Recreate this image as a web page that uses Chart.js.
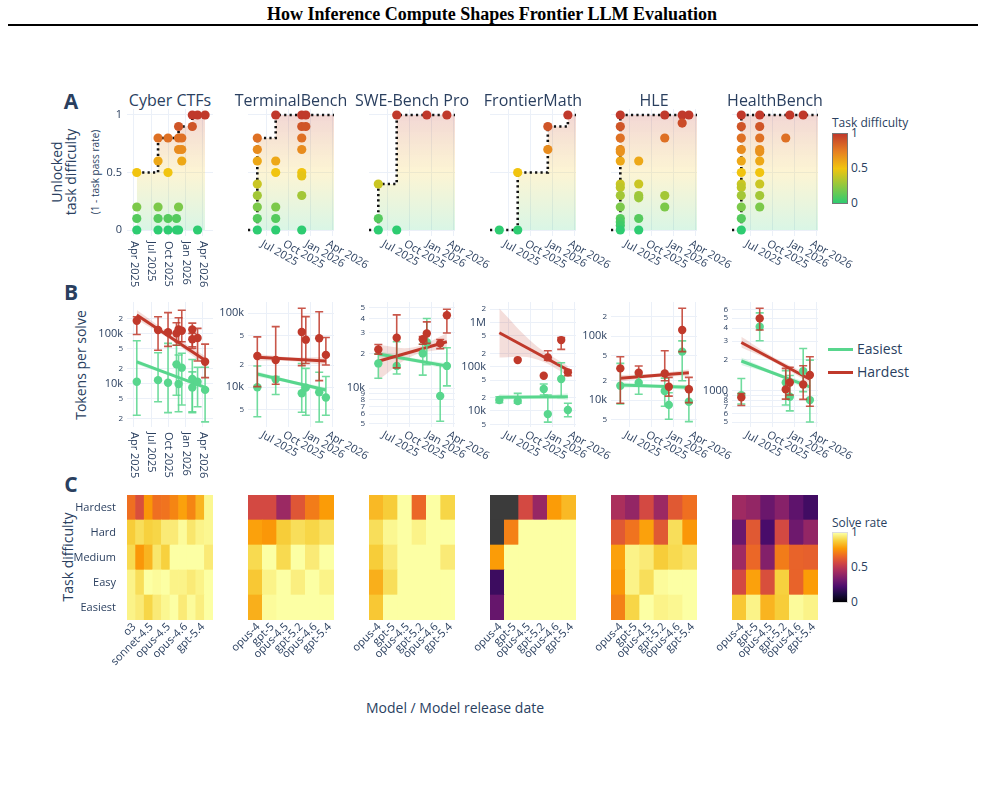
<!DOCTYPE html>
<html>
<head>
<meta charset="utf-8">
<script src="https://cdn.jsdelivr.net/npm/chart.js@4.4.1/dist/chart.umd.min.js"></script>
<style>
  body { margin: 0; width: 985px; height: 790px; overflow: hidden; background: #fff; position: relative;
         font-family: 'Open Sans', sans-serif; color: #2a3f5f; }
  canvas { position: absolute; }
  .lbl { position: absolute; white-space: nowrap; transform: translate(-50%, -50%); line-height: 1; }
  .rot { transform: translate(-50%, -50%) rotate(-90deg); }
  .left { position: absolute; white-space: nowrap; transform: translate(0, -50%); line-height: 1; }
</style>
</head>
<body>
<div class="lbl" style="left:492px;top:14px;font:bold 18px 'Liberation Serif',serif;color:#000">How Inference Compute Shapes Frontier LLM Evaluation</div>
<div style="position:absolute;left:8px;top:24px;width:970px;height:2px;background:#000"></div>

<div class="lbl" style="left:71px;top:101px;font-weight:bold;font-size:21px">A</div>
<div class="lbl" style="left:71px;top:292px;font-weight:bold;font-size:21px">B</div>
<div class="lbl" style="left:71px;top:484px;font-weight:bold;font-size:21px">C</div>

<div class="lbl rot" style="left:57px;top:172px;font-size:14px">Unlocked</div>
<div class="lbl rot" style="left:71px;top:172px;font-size:14px">task difficulty</div>
<div class="lbl rot" style="left:95px;top:172px;font-size:10px">(1 - task pass rate)</div>
<div class="lbl rot" style="left:81px;top:365px;font-size:14px">Tokens per solve</div>
<div class="lbl rot" style="left:68px;top:557px;font-size:14px">Task difficulty</div>
<div class="lbl" style="left:455px;top:708px;font-size:14px">Model / Model release date</div>

<!-- legend -->
<div style="position:absolute;left:828px;top:347.5px;width:25px;height:3px;background:#58d68d"></div>
<div class="left" style="left:857px;top:349px;font-size:14px">Easiest</div>
<div style="position:absolute;left:828px;top:370.5px;width:25px;height:3px;background:#c0392b"></div>
<div class="left" style="left:857px;top:372px;font-size:14px">Hardest</div>

<!-- colorbars -->
<div class="left" style="left:832px;top:123px;font-size:12px">Task difficulty</div>
<div style="position:absolute;left:832px;top:133px;width:14px;height:69px;border:1px solid #777;
  background:linear-gradient(to top,#2ecc71,#f1c40f 50%,#e67e22 75%,#c0392b)"></div>
<div class="left" style="left:851px;top:133px;font-size:12px">1</div>
<div class="left" style="left:851px;top:168px;font-size:12px">0.5</div>
<div class="left" style="left:851px;top:203px;font-size:12px">0</div>

<div class="left" style="left:832px;top:523px;font-size:12px">Solve rate</div>
<div style="position:absolute;left:832px;top:532px;width:14px;height:69px;border:1px solid #ddd;
  background:linear-gradient(to top,#000004,#1b0c41 11.1%,#4a0c6b 22.2%,#781c6d 33.3%,#a52c60 44.4%,#cf4446 55.6%,#ed6925 66.7%,#fb9b06 77.8%,#f7d13d 88.9%,#fcffa4)"></div>
<div class="left" style="left:851px;top:532px;font-size:12px">1</div>
<div class="left" style="left:851px;top:567px;font-size:12px">0.5</div>
<div class="left" style="left:851px;top:602px;font-size:12px">0</div>

<script>
// ---------- data ----------
const benchmarks = ["Cyber CTFs", "TerminalBench", "SWE-Bench Pro", "FrontierMath", "HLE", "HealthBench"];

const cyberModels = ["o3", "gpt-5", "sonnet-4.5", "gpt-5.1", "opus-4.5", "gpt-5.2", "opus-4.6", "gpt-5.3-codex", "gpt-5.4", "gpt-5.4-pro"];
const cyberDates = ["2025-04-16", "2025-08-07", "2025-09-29", "2025-11-13", "2025-11-24", "2025-12-11", "2026-02-05", "2026-02-05", "2026-03-05", "2026-04-14"];
const coreModels = ["opus-4", "gpt-5", "opus-4.5", "gpt-5.2", "opus-4.6", "gpt-5.4"];
const coreDates = ["2025-05-22", "2025-08-07", "2025-11-24", "2025-12-11", "2026-02-05", "2026-03-05"];

const cyberRange = ["2025-02-23", "2026-05-26"];
const coreRange = ["2025-04-13", "2026-04-08"];
const cyberTickDates = ["2025-04-01", "2025-07-01", "2025-10-01", "2026-01-01", "2026-04-01"];
const cyberTickLabels = ["Apr 2025", "Jul 2025", "Oct 2025", "Jan 2026", "Apr 2026"];
const coreTickDates = ["2025-07-01", "2025-10-01", "2026-01-01", "2026-04-01"];
const coreTickLabels = ["Jul 2025", "Oct 2025", "Jan 2026", "Apr 2026"];

// A: unlocked task difficulty levels, one list per model
const unlocked = [
  [[0.5, 0.2, 0.1, 0], [0.8, 0.6, 0.2, 0.1, 0], [0.8, 0.5, 0.1, 0], [0.1, 0], [0.9, 0.8, 0.7, 0.2, 0], [0.8, 0.7, 0.6], [1, 0.9], [], [1, 0], [1]],
  [[0.8, 0.7, 0.6, 0.4, 0.3, 0.2, 0.1, 0], [1, 0.6, 0.5, 0.2, 0.1, 0], [1, 0.9, 0.8, 0.7, 0.5, 0.47, 0.3, 0], [1, 0.9], [], []],
  [[0.4, 0.1, 0], [1, 0], [], [1], [], [1]],
  [[0], [0.5, 0], [], [0.9, 0.7], [], [1]],
  [[1, 0.9, 0.8, 0.7, 0.68, 0.6, 0.4, 0.37, 0.3, 0.2, 0.1, 0.07, 0.04, 0], [0.6, 0.4, 0.3, 0.28, 0.1, 0], [1, 0.8, 0.3, 0.2], [], [1, 0.93], [1]],
  [[1, 0.9, 0.8, 0.7, 0.6, 0.5, 0.4, 0.37, 0.3, 0.2, 0.1, 0], [1, 0.9, 0.8, 0.7, 0.68, 0.6, 0.5, 0.4, 0.3, 0.2], [0.8], [1], [1], []]
];
const unlockTicks = [0, 0.5, 1];
const unlockTickLabels = ["0", "0.5", "1"];

// B: tokens per solve (median and interval) for hardest / easiest tasks
const hardTokens = [
  [179e3, 117e3, 105e3, 100e3, 120e3, 113e3, 120e3, 76e3, 81e3, 27e3],
  [26.5e3, 23.4e3, 56e3, 44e3, 46e3, 27.4e3],
  [21.6e3, 27.3e3, 26.5e3, 29.7e3, 24.4e3, 42.7e3],
  [null, 141e3, 62.7e3, 162e3, 399e3, 74.5e3],
  [31.2e3, 26.7e3, 26e3, 16.1e3, 124e3, 14.7e3],
  [863, 4960, 1030, 1200, 1150, 1415]
];
const hardLow = [
  [95e3, 46e3, 55e3, 58e3, 68e3, 68e3, 54e3, 50e3, 28e3, 13e3],
  [10.2e3, 11e3, 19.6e3, 21e3, 12.3e3, 20e3],
  [19.7e3, 15e3, 24e3, 24.4e3, 22e3, 30e3],
  [null, null, null, 141e3, 246e3, 63e3],
  [8.9e3, 23.2e3, 20e3, 11.5e3, 57e3, 9.1e3],
  [720, 3830, 830, 910, 825, 710]
];
const hardHigh = [
  [215e3, 215e3, 260e3, 163e3, 205e3, 290e3, 160e3, 100e3, 126e3, 61e3],
  [48e3, 66e3, 117e3, 90e3, 105e3, 47e3],
  [23.9e3, 43e3, 28e3, 37.4e3, 26.4e3, 48e3],
  [null, null, null, 229e3, 458e3, 84e3],
  [47.5e3, 34e3, 59e3, 22.6e3, 271e3, 22.6e3],
  [940, 6200, 1640, 1680, 1740, 2120]
];
const easyTokens = [
  [10.8e3, 11.6e3, 10.3e3, 24e3, 9.7e3, 20.6e3, 12.2e3, 8.3e3, 10.8e3, 7.4e3],
  [10e3, 12.8e3, 8.3e3, 9.9e3, 8.6e3, 7.3e3],
  [16.4e3, 15.6e3, 20e3, 25e3, 8.6e3, 15.6e3],
  [17.7e3, 16.8e3, 31.4e3, 8.5e3, 52.7e3, 10.5e3],
  [16.7e3, 18.7e3, 13.8e3, 8.4e3, 57e3, 9.4e3],
  [908, 4120, 1200, 875, 1545, 813]
];
const easyLow = [
  [2.3e3, 4.3e3, 2.6e3, 5.8e3, 2.7e3, 3.7e3, 2.7e3, 2.6e3, 3.4e3, 1.7e3],
  [4e3, 8e3, 4.6e3, 4.2e3, 3.4e3, 4.2e3],
  [12.2e3, 13.3e3, 13e3, 16e3, 5.2e3, 10.5e3],
  [15.4e3, 14.9e3, 22.9e3, 5.6e3, 20.3e3, 7.4e3],
  [8.7e3, 12.3e3, 8e3, 5e3, 20e3, 4.6e3],
  [745, 3020, 730, 640, 980, 500]
];
const easyHigh = [
  [71e3, 41e3, 63e3, 58e3, 37e3, 40e3, 30e3, 17e3, 21e3, 21e3],
  [19.4e3, 14e3, 21e3, 18e3, 16e3, 14e3],
  [19.8e3, 25.2e3, 24e3, 40e3, 15.9e3, 22.4e3],
  [21e3, 25e3, 40.7e3, 22.9e3, 123e3, 14.9e3],
  [37.4e3, 24.6e3, 22e3, 13e3, 84e3, 15e3],
  [1310, 5600, 1560, 1400, 2550, 1970]
];
// fitted trends: [first model, last model]; bands: [first, middle, last]
const hardTrend = [[232e3, 29e3], [25.4e3, 22.7e3], [17.1e3, 25.2e3], [583e3, 84e3], [21.8e3, 26.7e3], [2910, 1290]];
const hardBandLow = [[190e3, 74e3, 23e3], [22.9e3, 22.5e3, 20e3], [11.8e3, 19e3, 22e3], [162e3, 154e3, 65e3], [19.3e3, 22.6e3, 23.7e3], [2600, 1850, 1180]];
const hardBandHigh = [[293e3, 96e3, 35e3], [28.2e3, 25.5e3, 25.4e3], [23.6e3, 22.5e3, 29.7e3], [2.06e6, 336e3, 103e3], [24.6e3, 25.8e3, 30e3], [3300, 2050, 1410]];
const easyTrend = [[27e3, 8.3e3], [15.1e3, 9.2e3], [19.8e3, 15.6e3], [20.3e3, 21e3], [17.2e3, 15.8e3], [1930, 1090]];
const easyBandLow = [[24e3, 13.8e3, 7.4e3], [13.9e3, 11.2e3, 8.5e3], [18.5e3, 16.9e3, 14.7e3], [17.5e3, 19.3e3, 17.8e3], [15.6e3, 15.6e3, 14.3e3], [1770, 1400, 990]];
const easyBandHigh = [[30e3, 15.6e3, 9.1e3], [16.3e3, 12.4e3, 10e3], [21e3, 18.3e3, 16.5e3], [24e3, 22e3, 25e3], [19e3, 17.4e3, 17.4e3], [2090, 1510, 1180]];

const tokenRange = [[1340, 424e3], [2910, 142e3], [4640, 55.5e3], [4350, 2.89e6], [3790, 340e3], [448, 7130]];
const tokenTicks = [
  [2e3, 5e3, 1e4, 2e4, 5e4, 1e5, 2e5],
  [5e3, 1e4, 2e4, 5e4, 1e5],
  [5e3, 6e3, 7e3, 8e3, 9e3, 1e4, 2e4, 3e4, 4e4, 5e4],
  [5e3, 1e4, 2e4, 5e4, 1e5, 2e5, 5e5, 1e6, 2e6],
  [5e3, 1e4, 2e4, 5e4, 1e5, 2e5],
  [500, 600, 700, 800, 900, 1000, 2000, 3000, 4000, 5000, 6000]
];
const tokenTickLabels = [
  ["2", "5", "10k", "2", "5", "100k", "2"],
  ["5", "10k", "2", "5", "100k"],
  ["5", "6", "7", "8", "9", "10k", "2", "3", "4", "5"],
  ["5", "10k", "2", "5", "100k", "2", "5", "1M", "2"],
  ["5", "10k", "2", "5", "100k", "2"],
  ["5", "6", "7", "8", "9", "1000", "2", "3", "4", "5", "6"]
];

// C: solve rate per difficulty row (Hardest .. Easiest) and model
const difficultyRows = ["Hardest", "Hard", "Medium", "Easy", "Easiest"];
const solveRate = [
  [[0.68, 0.59, 0.77, 0.68, 0.69, 0.73, 0.79, 0.73, 0.83, 0.98],
   [0.88, 0.92, 0.89, 0.90, 0.95, 0.95, 0.99, 0.94, 0.97, 0.98],
   [0.91, 0.77, 0.83, 0.94, 0.89, 1, 1, 1, 1, 0.95],
   [0.97, 0.92, 1, 0.99, 1, 0.97, 0.97, 0.95, 0.97, 1],
   [0.97, 0.95, 0.90, 0.95, 0.98, 1, 0.95, 0.99, 0.96, 1]],
  [[0.57, 0.57, 0.42, 0.61, 0.71, 0.78],
   [0.79, 0.77, 0.88, 0.92, 0.90, 0.93],
   [0.91, 1, 0.91, 1, 0.95, 1],
   [0.87, 0.97, 1, 0.96, 1, 0.97],
   [0.82, 0.99, 1, 1, 1, 1]],
  [[0.84, 0.88, 1, 0.66, 1, 0.90],
   [0.92, 0.98, 1, 0.97, 1, 1],
   [0.88, 0.95, 1, 1, 1, 0.95],
   [0.82, 0.92, 1, 1, 1, 1],
   [0.87, 1, 1, 1, 1, 1]],
  [[null, null, 0.57, 0.41, 0.78, 0.84],
   [null, 0.72, 1, 1, 1, 1],
   [0.78, 1, 1, 1, 1, 1],
   [0.19, 1, 1, 1, 1, 1],
   [0.29, 1, 1, 1, 1, 1]],
  [[0.46, 0.40, 0.57, 0.42, 0.62, 0.68],
   [0.62, 0.69, 0.79, 0.62, 0.92, 0.77],
   [0.79, 0.97, 0.95, 0.88, 0.91, 0.93],
   [0.77, 0.97, 0.92, 0.99, 1, 1],
   [0.72, 0.90, 1, 0.97, 0.98, 1]],
  [[0.43, 0.40, 0.30, 0.37, 0.27, 0.20],
   [0.30, 0.62, 0.22, 0.57, 0.31, 0.40],
   [0.43, 0.66, 0.36, 0.71, 0.65, 0.64],
   [0.57, 0.79, 0.59, 0.89, 0.65, 0.78],
   [0.87, 0.97, 0.83, 0.88, 0.99, 0.97]]
];

// ---------- layout & style ----------
const colLeft = [127, 248, 369, 490, 611, 732];
const plotW = 86;
const rowA = { top: 109, h: 127 };
const rowB = { top: 302, h: 125 };
const rowC = { top: 495, h: 125 };
const M = { l: 70, t: 12, r: 55, b: 80 };
const yAxisW = M.l - 2;
const gridColor = '#ebf0f8';
const red = '#c0392b';
const green = '#58d68d';
const ink = '#2a3f5f';

const toMs = d => Date.parse(d + 'T00:00:00Z');

function hexRgb(h) {
  return [1, 3, 5].map(i => parseInt(h.slice(i, i + 2), 16));
}
function scaleColor(stops, t) {
  t = Math.max(0, Math.min(1, t));
  for (let i = 1; i < stops.length; i++) {
    if (t <= stops[i][0]) {
      const [p0, c0] = stops[i - 1], [p1, c1] = stops[i];
      const f = (t - p0) / (p1 - p0);
      const a = hexRgb(c0), b = hexRgb(c1);
      return `rgb(${a.map((v, k) => Math.round(v + (b[k] - v) * f)).join(',')})`;
    }
  }
  return stops[stops.length - 1][1];
}
const diffStops = [[0, '#2ecc71'], [0.5, '#f1c40f'], [0.75, '#e67e22'], [1, '#c0392b']];
const infernoStops = [[0, '#000004'], [0.111, '#1b0c41'], [0.222, '#4a0c6b'], [0.333, '#781c6d'], [0.444, '#a52c60'],
  [0.556, '#cf4446'], [0.667, '#ed6925'], [0.778, '#fb9b06'], [0.889, '#f7d13d'], [1, '#fcffa4']];

function makeCanvas(col, row) {
  const c = document.createElement('canvas');
  c.width = plotW + M.l + M.r;
  c.height = row.h + M.t + M.b;
  c.style.left = (colLeft[col] - M.l) + 'px';
  c.style.top = (row.top - M.t) + 'px';
  document.body.appendChild(c);
  return c;
}

// rotated tick labels under the x axes, placed with the x scale
const axisLabels = {
  id: 'axisLabels',
  afterDraw(chart, args, opts) {
    if (!opts.labels) return;
    const { ctx, chartArea } = chart;
    const x = chart.scales.x;
    ctx.save();
    ctx.font = "11px 'Open Sans'";
    ctx.fillStyle = ink;
    ctx.textAlign = opts.align;
    ctx.textBaseline = 'middle';
    opts.values.forEach((v, k) => {
      if (!opts.labels[k]) return;
      const px = x.getPixelForValue(v);
      ctx.save();
      ctx.translate(px + opts.dx, chartArea.bottom + opts.dy);
      ctx.rotate(opts.angle * Math.PI / 180);
      ctx.fillText(opts.labels[k], 0, 0);
      ctx.restore();
    });
    ctx.restore();
  }
};

// vertical error bars with caps for datasets carrying errLow / errHigh
const errorBars = {
  id: 'errorBars',
  beforeDatasetDraw(chart, args) {
    const ds = chart.data.datasets[args.index];
    if (!ds.errLow) return;
    const { ctx, chartArea } = chart;
    const { x, y } = chart.scales;
    ctx.save();
    ctx.beginPath();
    ctx.rect(chartArea.left - 6, chartArea.top, chartArea.width + 12, chartArea.height);
    ctx.clip();
    ctx.strokeStyle = ds.errColor;
    ctx.lineWidth = 1.6;
    ds.data.forEach((p, k) => {
      const lo = ds.errLow[k], hi = ds.errHigh[k];
      if (lo == null || hi == null) return;
      const px = x.getPixelForValue(p.x), y0 = y.getPixelForValue(lo), y1 = y.getPixelForValue(hi);
      ctx.beginPath();
      ctx.moveTo(px, y0); ctx.lineTo(px, y1);
      ctx.moveTo(px - 4, y0); ctx.lineTo(px + 4, y0);
      ctx.moveTo(px - 4, y1); ctx.lineTo(px + 4, y1);
      ctx.stroke();
    });
    ctx.restore();
  }
};
Chart.register(axisLabels, errorBars);
Chart.defaults.font.family = "'Open Sans', sans-serif";
Chart.defaults.color = ink;

function timeAxis(b) {
  const isCyber = b === 0;
  const [xMin, xMax] = (isCyber ? cyberRange : coreRange).map(toMs);
  const ticks = (isCyber ? cyberTickDates : coreTickDates).map(toMs);
  return {
    type: 'linear', min: xMin, max: xMax,
    border: { display: false },
    grid: { color: gridColor, drawTicks: false },
    ticks: { display: false },
    afterBuildTicks: s => { s.ticks = ticks.map(v => ({ value: v })); },
    afterFit: s => { s.height = 0; }
  };
}
function dateLabelOpts(b) {
  const isCyber = b === 0;
  return {
    values: (isCyber ? cyberTickDates : coreTickDates).map(toMs),
    labels: isCyber ? cyberTickLabels : coreTickLabels,
    angle: isCyber ? 90 : 30,
    align: 'left',
    dx: isCyber ? 0 : -5,
    dy: isCyber ? 5 : 7
  };
}
function baseOptions(scales, plugins) {
  return {
    responsive: false, animation: false, devicePixelRatio: 1,
    layout: { padding: { left: M.l - yAxisW, top: M.t, right: M.r, bottom: M.b } },
    plugins: Object.assign({ legend: { display: false }, tooltip: { enabled: false } }, plugins),
    scales
  };
}

function unlockFill(c) {
  const { chart } = c;
  if (!chart.chartArea) return 'transparent';
  const y = chart.scales.y;
  const g = chart.ctx.createLinearGradient(0, y.getPixelForValue(0), 0, y.getPixelForValue(1));
  g.addColorStop(0, 'rgba(46,204,113,0.18)');
  g.addColorStop(0.5, 'rgba(241,196,15,0.18)');
  g.addColorStop(1, 'rgba(192,57,43,0.2)');
  return g;
}

// ---------- row A ----------
function drawUnlock(b) {
  const isCyber = b === 0;
  const dates = (isCyber ? cyberDates : coreDates).map(toMs);
  const [xMin, xMax] = (isCyber ? cyberRange : coreRange).map(toMs);
  const pts = [];
  unlocked[b].forEach((list, m) => list.forEach(v => pts.push({ x: dates[m], y: v })));
  // frontier = best difficulty unlocked so far
  const frontier = isCyber ? [] : [{ x: xMin, y: 0 }];
  let best = 0;
  unlocked[b].forEach((list, m) => {
    if (!list.length) return;
    best = Math.max(best, ...list);
    frontier.push({ x: dates[m], y: best });
  });
  if (!isCyber) frontier.push({ x: xMax, y: best });

  new Chart(makeCanvas(b, rowA), {
    type: 'scatter',
    data: {
      datasets: [
        { data: pts, pointRadius: 4.6, pointBorderWidth: 0, order: 1, clip: false,
          pointBackgroundColor: c => scaleColor(diffStops, c.raw ? c.raw.y : 0) },
        { type: 'line', data: frontier, stepped: true, borderColor: '#111', borderWidth: 2.6,
          borderDash: [2.2, 3.2], pointRadius: 0, fill: 'origin', backgroundColor: unlockFill, order: 2, clip: false }
      ]
    },
    options: baseOptions({
      x: timeAxis(b),
      y: {
        type: 'linear', min: -0.052, max: 1.052,
        border: { display: false },
        grid: { color: gridColor, drawTicks: false },
        ticks: { display: b === 0, padding: 5, font: { size: 11 },
                 callback: v => unlockTickLabels[unlockTicks.indexOf(v)] },
        afterBuildTicks: s => { s.ticks = unlockTicks.map(v => ({ value: v })); },
        afterFit: s => { s.width = yAxisW; }
      }
    }, { axisLabels: dateLabelOpts(b) })
  });
}

// ---------- row B ----------
function pointSeries(dates, vals, lo, hi, color, errColor) {
  const data = [], eLo = [], eHi = [];
  vals.forEach((v, m) => {
    if (v == null) return;
    data.push({ x: dates[m], y: v });
    eLo.push(lo[m]); eHi.push(hi[m]);
  });
  return { data, errLow: eLo, errHigh: eHi, errColor, pointRadius: 4.2, pointBorderWidth: 0,
           pointBackgroundColor: color, order: 1, clip: false };
}
function trendSeries(x0, x1, vals, color) {
  return { type: 'line', data: [{ x: x0, y: vals[0] }, { x: x1, y: vals[1] }], borderColor: color,
           borderWidth: 3, pointRadius: 0, fill: false, order: 2 };
}
function bandSeries(x0, x1, lo, hi, fillColor) {
  const xm = (x0 + x1) / 2;
  const xs = [x0, xm, x1];
  return [
    { type: 'line', data: xs.map((x, k) => ({ x, y: lo[k] })), borderWidth: 0, pointRadius: 0,
      tension: 0.4, fill: false, order: 3 },
    { type: 'line', data: xs.map((x, k) => ({ x, y: hi[k] })), borderWidth: 0, pointRadius: 0,
      tension: 0.4, fill: '-1', backgroundColor: fillColor, order: 3 }
  ];
}
const isDecade = v => Math.abs(Math.log10(v) - Math.round(Math.log10(v))) < 1e-9;

function drawTokens(b) {
  const isCyber = b === 0;
  const dates = (isCyber ? cyberDates : coreDates).map(toMs);
  const x0 = dates[0], x1 = dates[dates.length - 1];
  const ticks = tokenTicks[b], labels = tokenTickLabels[b];
  new Chart(makeCanvas(b, rowB), {
    type: 'scatter',
    data: {
      datasets: [
        pointSeries(dates, hardTokens[b], hardLow[b], hardHigh[b], red, 'rgba(192,57,43,0.85)'),
        pointSeries(dates, easyTokens[b], easyLow[b], easyHigh[b], green, 'rgba(88,214,141,0.85)'),
        trendSeries(x0, x1, hardTrend[b], red),
        trendSeries(x0, x1, easyTrend[b], green),
        ...bandSeries(x0, x1, hardBandLow[b], hardBandHigh[b], 'rgba(192,57,43,0.17)'),
        ...bandSeries(x0, x1, easyBandLow[b], easyBandHigh[b], 'rgba(88,214,141,0.2)')
      ]
    },
    options: baseOptions({
      x: timeAxis(b),
      y: {
        type: 'logarithmic', min: tokenRange[b][0], max: tokenRange[b][1],
        border: { display: false },
        grid: { color: gridColor, drawTicks: false },
        ticks: { padding: 4, autoSkip: false,
                 font: c => ({ size: c.tick && isDecade(c.tick.value) ? 11 : 8 }),
                 callback: v => { const k = ticks.indexOf(v); return k < 0 ? '' : labels[k]; } },
        afterBuildTicks: s => { s.ticks = ticks.map(v => ({ value: v })); },
        afterFit: s => { s.width = yAxisW; }
      }
    }, { axisLabels: dateLabelOpts(b) })
  });
}

// ---------- row C ----------
function drawHeatmap(b) {
  const isCyber = b === 0;
  const models = isCyber ? cyberModels : coreModels;
  const rows = solveRate[b];
  const datasets = difficultyRows.map((name, r) => ({
    label: name,
    data: models.map(() => 1),
    backgroundColor: models.map((_, m) => rows[r][m] == null ? '#3b3b3b' : scaleColor(infernoStops, rows[r][m])),
    borderWidth: 0, categoryPercentage: 1, barPercentage: 1
  })).reverse();
  const rowTicks = [4.5, 3.5, 2.5, 1.5, 0.5];
  new Chart(makeCanvas(b, rowC), {
    type: 'bar',
    data: { labels: models, datasets },
    options: baseOptions({
      x: {
        stacked: true,
        border: { display: false }, grid: { display: false },
        ticks: { display: false },
        afterFit: s => { s.height = 0; }
      },
      y: {
        stacked: true, min: 0, max: 5,
        border: { display: false }, grid: { display: false },
        ticks: { display: isCyber, padding: 3, font: { size: 11 },
                 callback: v => difficultyRows[rowTicks.indexOf(v)] },
        afterBuildTicks: s => { s.ticks = rowTicks.map(v => ({ value: v })); },
        afterFit: s => { s.width = yAxisW; }
      }
    }, {
      axisLabels: {
        values: models.map((_, i) => i),
        labels: models.map((m, i) => (isCyber && i % 2) ? '' : m),
        angle: -45, align: 'right', dx: 3, dy: 5
      }
    })
  });
}

function drawAll() {
  benchmarks.forEach((name, b) => {
    const t = document.createElement('div');
    t.className = 'lbl';
    t.style.left = (colLeft[b] + plotW / 2) + 'px';
    t.style.top = '100px';
    t.style.fontSize = '16px';
    t.textContent = name;
    document.body.appendChild(t);
    drawUnlock(b);
    drawTokens(b);
    drawHeatmap(b);
  });
}
document.fonts.load("11px 'Open Sans'").then(drawAll, drawAll);
</script>
</body>
</html>
